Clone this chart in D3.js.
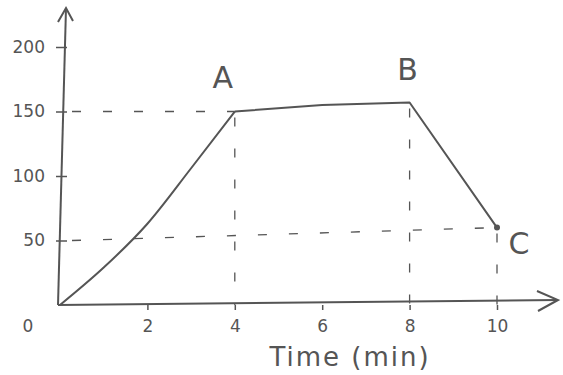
<!DOCTYPE html>
<html>
<head>
<meta charset="utf-8">
<script src="https://cdn.jsdelivr.net/npm/d3@7"></script>
<style>
  body { margin: 0; background: #fff; }
  text { font-family: "DejaVu Sans", sans-serif; fill: #555; }
</style>
</head>
<body>
<svg id="chart" width="563" height="375"></svg>
<script>
// values
var times = [0, 1, 2, 3, 4, 6, 8, 10];
var values = [0, 29, 63, 106, 150, 155, 157, 60];
var xTicks = [2, 4, 6, 8, 10];
var yTicks = [50, 100, 150, 200];
var pointNames = ["A", "B", "C"];
var pointTimes = [4, 8, 10];
var pointValues = [150, 157, 60];

var svg = d3.select("#chart");
var ink = "#555";

var x = d3.scaleLinear().domain([0, 10]).range([60, 497]);
var y = d3.scaleLinear().domain([0, 200]).range([305, 47]);

// dashed guides
var guides = svg.append("g")
    .attr("fill", "none")
    .attr("stroke", ink)
    .attr("stroke-width", 1.3)
    .attr("stroke-dasharray", "9,22");

// horizontal to A, horizontal at 50 towards C
guides.append("line")
    .attr("x1", x(0) + 12).attr("y1", y(pointValues[0]))
    .attr("x2", x(pointTimes[0])).attr("y2", y(pointValues[0]));
guides.append("line")
    .attr("x1", x(0) + 12).attr("y1", y(50))
    .attr("x2", x(pointTimes[2])).attr("y2", y(pointValues[2]));

// verticals down to the time axis
pointTimes.forEach(function (t, i) {
    guides.append("line")
        .attr("x1", x(t)).attr("y1", y(pointValues[i]) + 6)
        .attr("x2", x(t)).attr("y2", y(0));
});

// axes
var gx = svg.append("g")
    .attr("transform", "translate(0," + y(0) + ")")
    .call(d3.axisBottom(x).tickValues(xTicks).tickSize(5).tickPadding(10).tickFormat(d3.format("d")));
gx.select(".domain").remove();

var gy = svg.append("g")
    .attr("transform", "translate(" + x(0) + ",0)")
    .call(d3.axisLeft(y).tickValues(yTicks).tickSize(-7).tickPadding(15).tickFormat(d3.format("d")));
gy.select(".domain").remove();
gy.selectAll(".tick line").attr("x1", -4);

svg.selectAll(".tick line").attr("stroke", ink).attr("stroke-width", 1.5);
svg.selectAll(".tick text").style("font-size", "17px").attr("fill", ink);

// axis lines with open arrows
svg.append("path")
    .attr("d", "M" + (x(0) - 2) + "," + y(0) + "L" + (x(0) + 6) + ",8")
    .attr("stroke", ink).attr("stroke-width", 2).attr("fill", "none");
svg.append("path")
    .attr("d", "M" + (x(0) - 2) + ",22L" + (x(0) + 6) + ",8L" + (x(0) + 13) + ",21")
    .attr("stroke", ink).attr("stroke-width", 2).attr("fill", "none");
svg.append("path")
    .attr("d", "M" + (x(0) - 2) + "," + y(0) + "L558,300")
    .attr("stroke", ink).attr("stroke-width", 2).attr("fill", "none");
svg.append("path")
    .attr("d", "M537,291L558,300L538,311")
    .attr("stroke", ink).attr("stroke-width", 2).attr("fill", "none");

svg.append("text")
    .attr("x", 28).attr("y", 332)
    .attr("text-anchor", "middle")
    .style("font-size", "17px")
    .text("0");

// data line: smooth rise up to A, straight segments after
var smooth = d3.line()
    .curve(d3.curveMonotoneX)
    .x(function (d) { return x(d[0]); })
    .y(function (d) { return y(d[1]); });
var straight = d3.line()
    .x(function (d) { return x(d[0]); })
    .y(function (d) { return y(d[1]); });

var pts = times.map(function (t, i) { return [t, values[i]]; });
var rise = pts.filter(function (d) { return d[0] <= pointTimes[0]; });
var rest = pts.filter(function (d) { return d[0] >= pointTimes[0]; });

svg.append("path")
    .datum(rise)
    .attr("fill", "none")
    .attr("stroke", ink)
    .attr("stroke-width", 2)
    .attr("d", smooth);
svg.append("path")
    .datum(rest)
    .attr("fill", "none")
    .attr("stroke", ink)
    .attr("stroke-width", 2)
    .attr("stroke-linejoin", "round")
    .attr("d", straight);

svg.append("circle")
    .attr("cx", x(pointTimes[2])).attr("cy", y(pointValues[2]))
    .attr("r", 3).attr("fill", ink);

// point labels
var labelDx = [-12, -2, 22];
var labelDy = [-24, -22, 26];
svg.selectAll(".plabel")
    .data(pointNames)
    .enter().append("text")
    .attr("class", "plabel")
    .attr("x", function (d, i) { return x(pointTimes[i]) + labelDx[i]; })
    .attr("y", function (d, i) { return y(pointValues[i]) + labelDy[i]; })
    .attr("text-anchor", "middle")
    .style("font-size", "30px")
    .text(function (d) { return d; });

svg.append("text")
    .attr("x", 350).attr("y", 366)
    .attr("text-anchor", "middle")
    .style("font-size", "26px")
    .style("letter-spacing", "2px")
    .text("Time (min)");
</script>
</body>
</html>
